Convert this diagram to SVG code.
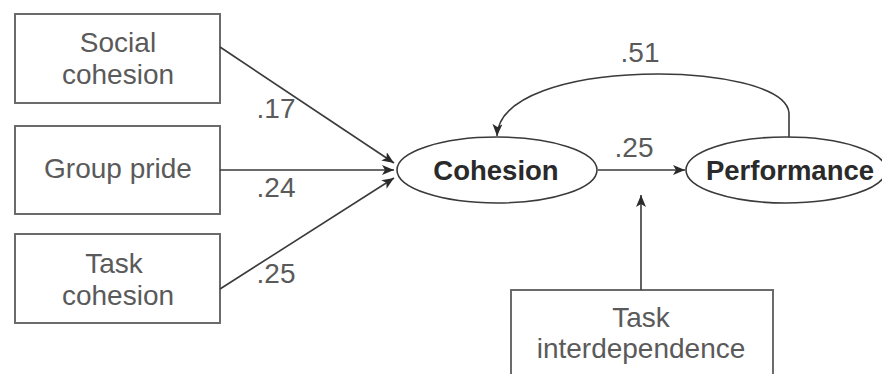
<svg xmlns="http://www.w3.org/2000/svg" width="882" height="374" viewBox="0 0 882 374">
  <style>
    .box { fill: #ffffff; stroke: #6b6b6b; stroke-width: 2; }
    .ell { fill: #ffffff; stroke: #3a3a3a; stroke-width: 1.6; }
    .lbl { font-family: "Liberation Sans", Arial, sans-serif; font-size: 28px; fill: #5a5a5a; text-anchor: middle; }
    .bold { font-family: "Liberation Sans", Arial, sans-serif; font-size: 27.5px; font-weight: bold; fill: #2a2a2a; text-anchor: middle; }
    .coef { font-family: "Liberation Sans", Arial, sans-serif; font-size: 28px; fill: #5a5a5a; text-anchor: middle; }
    .edge { fill: none; stroke: #3a3a3a; stroke-width: 1.6; }
  </style>
  <defs>
    <marker id="arrow" viewBox="0 0 12 10" refX="12" refY="5" markerWidth="12" markerHeight="10" markerUnits="userSpaceOnUse" orient="auto">
      <path d="M0,0 L12,5 L0,10 L3,5 Z" fill="#2a2a2a"/>
    </marker>
  </defs>

  <g id="social-cohesion">
    <rect class="box" x="15" y="14" width="205" height="89"/>
    <text class="lbl" x="118" y="52">Social</text>
    <text class="lbl" x="118" y="84">cohesion</text>
  </g>
  <g id="group-pride">
    <rect class="box" x="15" y="126" width="205" height="88"/>
    <text class="lbl" x="118" y="178">Group pride</text>
  </g>
  <g id="task-cohesion">
    <rect class="box" x="15" y="234" width="205" height="89"/>
    <text class="lbl" x="114" y="273">Task</text>
    <text class="lbl" x="118" y="305">cohesion</text>
  </g>
  <g id="cohesion">
    <ellipse class="ell" cx="497" cy="170" rx="100" ry="33"/>
    <text class="bold" x="496" y="180">Cohesion</text>
  </g>
  <g id="performance">
    <ellipse class="ell" cx="786" cy="170" rx="100" ry="33"/>
    <text class="bold" x="790" y="180">Performance</text>
  </g>
  <g id="task-interdependence">
    <rect class="box" x="511" y="290" width="262" height="100"/>
    <text class="lbl" x="641" y="327">Task</text>
    <text class="lbl" x="641" y="358">interdependence</text>
  </g>

  <g id="connectors">
    <path class="edge" d="M220,47 L394,163" marker-end="url(#arrow)"/>
    <path class="edge" d="M220,170 L394,170" marker-end="url(#arrow)"/>
    <path class="edge" d="M220,289 L394,178" marker-end="url(#arrow)"/>
    <path class="edge" d="M598,170 L685,170" marker-end="url(#arrow)"/>
    <path class="edge" d="M641,290 L641,195" marker-end="url(#arrow)"/>
    <path class="edge" d="M789,137 L789,113 C785,60 500,55 497,136" marker-end="url(#arrow)"/>
    <text class="coef" x="276" y="118">.17</text>
    <text class="coef" x="276" y="197">.24</text>
    <text class="coef" x="276" y="283">.25</text>
    <text class="coef" x="634" y="157">.25</text>
    <text class="coef" x="640" y="62">.51</text>
  </g>
</svg>
